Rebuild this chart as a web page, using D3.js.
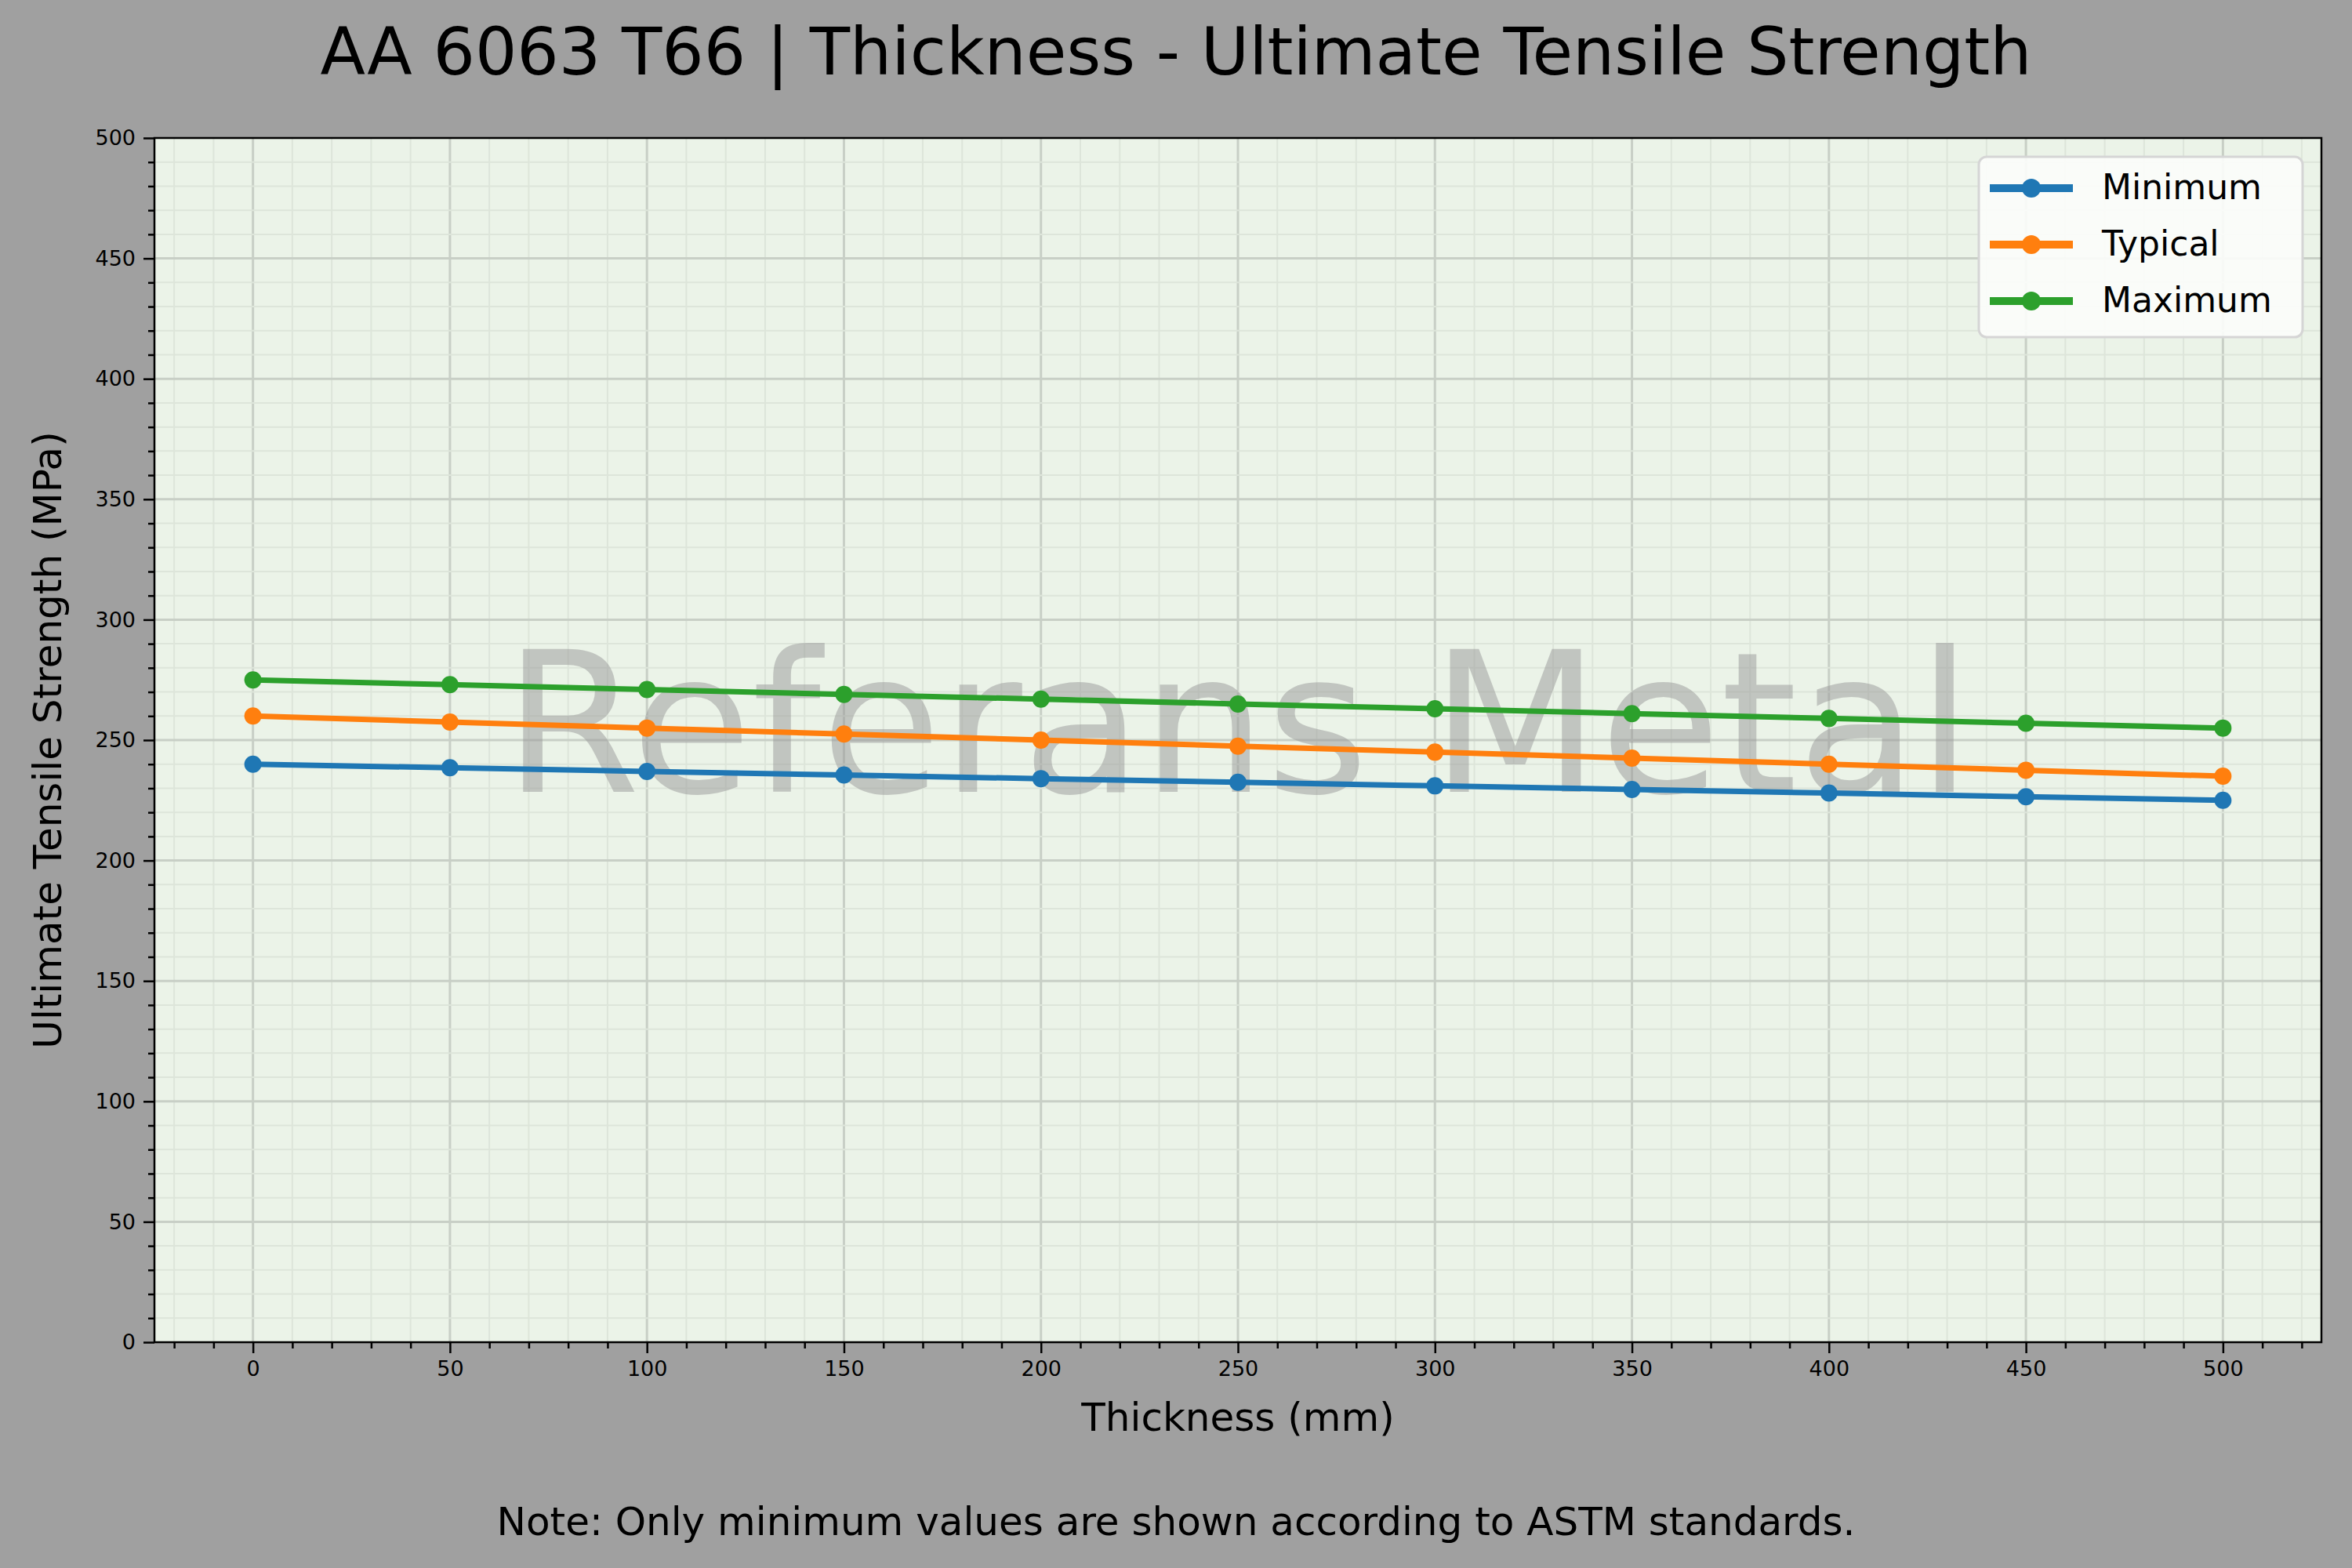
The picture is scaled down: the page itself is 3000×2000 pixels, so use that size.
<!DOCTYPE html>
<html><head><meta charset="utf-8">
<script src="https://cdn.jsdelivr.net/npm/d3@7.9.0/dist/d3.min.js"></script>
<style>body{margin:0;background:#a0a0a0}text{font-family:"DejaVu Sans",sans-serif}</style>
</head><body>
<svg width="3000" height="2000"></svg>
<script>
const thickness = [0, 50, 100, 150, 200, 250, 300, 350, 400, 450, 500];
const minimum = [240, 238.5, 237, 235.5, 234, 232.5, 231, 229.5, 228, 226.5, 225];
const typical = [260, 257.5, 255, 252.5, 250, 247.5, 245, 242.5, 240, 237.5, 235];
const maximum = [275, 273, 271, 269, 267, 265, 263, 261, 259, 257, 255];
const seriesNames = ['Minimum', 'Typical', 'Maximum'];
const colors = ['#1f77b4', '#ff7f0e', '#2ca02c'];

const svg = d3.select('svg');
const L = 197, R = 2961, T = 176, B = 1712;
const x = d3.scaleLinear().domain([-25, 525]).range([L, R]);
const y = d3.scaleLinear().domain([0, 500]).range([B, T]);

svg.append('rect').attr('x', L).attr('y', T).attr('width', R - L).attr('height', B - T).attr('fill', '#ebf3e8');

// grid
const g = svg.append('g');
d3.range(-20, 530, 10).forEach(v => {
  const major = v % 50 === 0;
  g.append('line').attr('x1', x(v)).attr('x2', x(v)).attr('y1', T).attr('y2', B)
    .attr('stroke', major ? '#c8cfc6' : '#dde5da').attr('stroke-width', major ? 3 : 2);
});
d3.range(10, 500, 10).forEach(v => {
  const major = v % 50 === 0;
  g.append('line').attr('x1', L).attr('x2', R).attr('y1', y(v)).attr('y2', y(v))
    .attr('stroke', major ? '#c8cfc6' : '#dde5da').attr('stroke-width', major ? 3 : 2);
});

// watermark
svg.append('text').attr('x', (L + R) / 2).attr('y', 1010).attr('text-anchor', 'middle')
  .attr('font-size', 250).attr('fill', '#999').attr('opacity', 0.5).text('Referans Metal');

// axes
const xAxis = svg.append('g').attr('transform', `translate(0,${B})`)
  .call(d3.axisBottom(x).tickValues(thickness).tickSize(14).tickPadding(10).tickSizeOuter(0));
const yAxis = svg.append('g').attr('transform', `translate(${L},0)`)
  .call(d3.axisLeft(y).tickValues(d3.range(0, 501, 50)).tickSize(14).tickPadding(10).tickSizeOuter(0));
svg.append('g').attr('transform', `translate(0,${B})`)
  .call(d3.axisBottom(x).tickValues(d3.range(-20, 530, 10).filter(v => v % 50)).tickSize(8).tickFormat('').tickSizeOuter(0))
  .select('.domain').remove();
svg.append('g').attr('transform', `translate(${L},0)`)
  .call(d3.axisLeft(y).tickValues(d3.range(0, 500, 10).filter(v => v % 50)).tickSize(8).tickFormat('').tickSizeOuter(0))
  .select('.domain').remove();
svg.selectAll('.tick line').attr('stroke-width', 2.5);
[xAxis, yAxis].forEach(a => a.selectAll('text').attr('font-size', 27).attr('font-family', 'DejaVu Sans'));
svg.append('rect').attr('x', L).attr('y', T).attr('width', R - L).attr('height', B - T)
  .attr('fill', 'none').attr('stroke', '#000').attr('stroke-width', 2.5);

// lines
const data = [minimum, typical, maximum];
const line = d3.line().x((d, i) => x(thickness[i])).y(d => y(d));
data.forEach((s, k) => {
  svg.append('path').datum(s).attr('d', line).attr('fill', 'none').attr('stroke', colors[k]).attr('stroke-width', 7);
  svg.selectAll(null).data(s).enter().append('circle')
    .attr('cx', (d, i) => x(thickness[i])).attr('cy', d => y(d)).attr('r', 11).attr('fill', colors[k]);
});

// legend
const lg = svg.append('g').attr('transform', 'translate(2524,200)');
lg.append('rect').attr('width', 413).attr('height', 230).attr('rx', 10)
  .attr('fill', '#fcfdfb').attr('fill-opacity', 0.9).attr('stroke', '#d5d5d5').attr('stroke-width', 3);
seriesNames.forEach((n, k) => {
  const yy = 40 + k * 72;
  lg.append('line').attr('x1', 14).attr('x2', 120).attr('y1', yy).attr('y2', yy).attr('stroke', colors[k]).attr('stroke-width', 10);
  lg.append('circle').attr('cx', 67).attr('cy', yy).attr('r', 12).attr('fill', colors[k]);
  lg.append('text').attr('x', 157).attr('y', yy + 14).attr('font-size', 44).text(n);
});

// titles
svg.append('text').attr('x', 1500).attr('y', 95).attr('text-anchor', 'middle').attr('font-size', 84)
  .text('AA 6063 T66 | Thickness - Ultimate Tensile Strength');
svg.append('text').attr('x', (L + R) / 2).attr('y', 1825).attr('text-anchor', 'middle').attr('font-size', 50)
  .text('Thickness (mm)');
svg.append('text').attr('transform', `translate(78,${(T + B) / 2}) rotate(-90)`).attr('text-anchor', 'middle')
  .attr('font-size', 50).text('Ultimate Tensile Strength (MPa)');
svg.append('text').attr('x', 1500).attr('y', 1958).attr('text-anchor', 'middle').attr('font-size', 50)
  .text('Note: Only minimum values are shown according to ASTM standards.');
</script>
</body></html>
